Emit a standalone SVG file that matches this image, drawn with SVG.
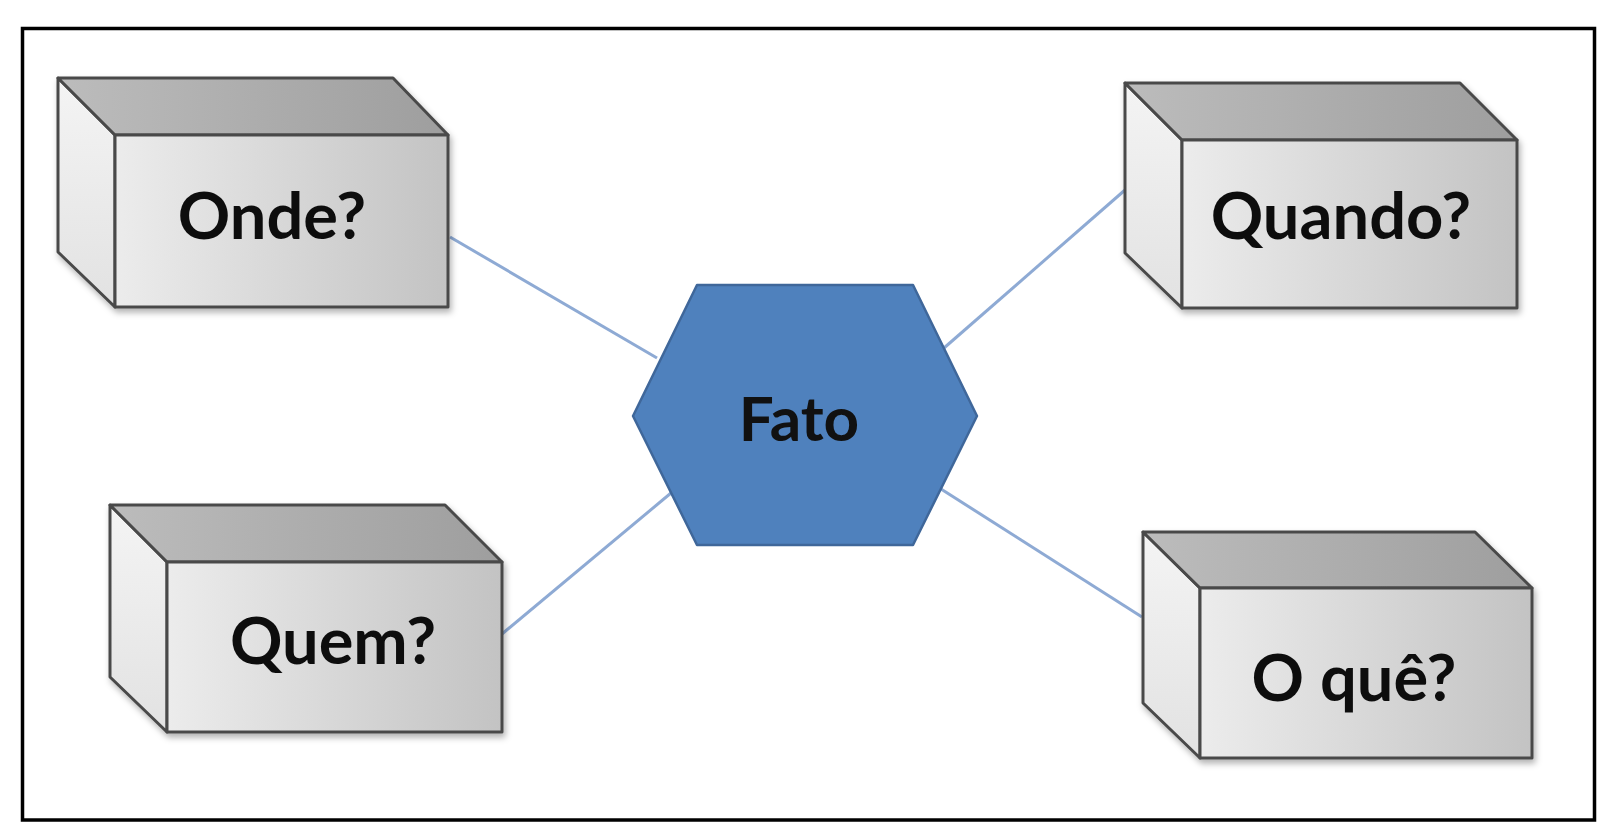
<svg xmlns="http://www.w3.org/2000/svg" width="1604" height="834" viewBox="0 0 1604 834">
<defs>
<linearGradient id="gFront" x1="0" y1="0" x2="1" y2="0">
<stop offset="0" stop-color="#ececec"/>
<stop offset="1" stop-color="#c3c3c3"/>
</linearGradient>
<linearGradient id="gTop" x1="0" y1="0" x2="1" y2="0">
<stop offset="0" stop-color="#bcbcbc"/>
<stop offset="1" stop-color="#9e9e9e"/>
</linearGradient>
<linearGradient id="gSide" x1="0" y1="0" x2="0" y2="1">
<stop offset="0" stop-color="#f4f4f4"/>
<stop offset="1" stop-color="#e2e2e2"/>
</linearGradient>
<filter id="shadow" x="-10%" y="-10%" width="125%" height="130%">
<feDropShadow dx="2" dy="4" stdDeviation="3" flood-color="#000" flood-opacity="0.3"/>
</filter>
</defs>
<style>
.front{fill:url(#gFront);stroke:#4a4a4a;stroke-width:3;stroke-linejoin:round}
.top{fill:url(#gTop);stroke:#4a4a4a;stroke-width:3;stroke-linejoin:round}
.side{fill:url(#gSide);stroke:#4a4a4a;stroke-width:3;stroke-linejoin:round}
.lbl{font-family:Lato,"Open Sans","Liberation Sans",sans-serif;font-weight:bold;font-size:65px;fill:#111;text-anchor:middle}
.conn{stroke:#8eaad4;stroke-width:3;fill:none}
</style>
<rect x="0" y="0" width="1604" height="834" fill="#fff"/>
<rect x="22.5" y="28.5" width="1572" height="791.5" fill="#fff" stroke="#000" stroke-width="3.5"/>
<g id="connectors">
<line class="conn" x1="450" y1="237" x2="657" y2="358"/>
<line class="conn" x1="1125" y1="190" x2="944" y2="348"/>
<line class="conn" x1="502" y1="634" x2="671" y2="493"/>
<line class="conn" x1="941" y1="489" x2="1142" y2="617"/>
</g>
<g id="onde" filter="url(#shadow)">
<polygon class="side" points="58,78 115,135 115,307 58,252"/>
<polygon class="top" points="58,78 393,78 448,135 115,135"/>
<rect class="front" x="115" y="135" width="333" height="172"/>
<text class="lbl" x="272" y="239">Onde?</text>
</g>
<g id="quem" filter="url(#shadow)">
<polygon class="side" points="110,505 167,562 167,732 110,677"/>
<polygon class="top" points="110,505 445,505 502,562 167,562"/>
<rect class="front" x="167" y="562" width="335" height="170"/>
<text class="lbl" x="333" y="664">Quem?</text>
</g>
<g id="quando" filter="url(#shadow)">
<polygon class="side" points="1125,83 1182,140 1182,308 1125,253"/>
<polygon class="top" points="1125,83 1460,83 1517,140 1182,140"/>
<rect class="front" x="1182" y="140" width="335" height="168"/>
<text class="lbl" x="1341" y="239">Quando?</text>
</g>
<g id="oque" filter="url(#shadow)">
<polygon class="side" points="1143,532 1200,588 1200,758 1143,703"/>
<polygon class="top" points="1143,532 1475,532 1532,588 1200,588"/>
<rect class="front" x="1200" y="588" width="332" height="170"/>
<text class="lbl" x="1354" y="701">O quê?</text>
</g>
<g id="fato">
<polygon points="697,285 913,285 977,416 913,545 697,545 633,416" fill="#4f81bd" stroke="#3f679a" stroke-width="2.5" stroke-linejoin="round"/>
<text class="lbl" x="799" y="441" style="font-size:62px">Fato</text>
</g>
</svg>
